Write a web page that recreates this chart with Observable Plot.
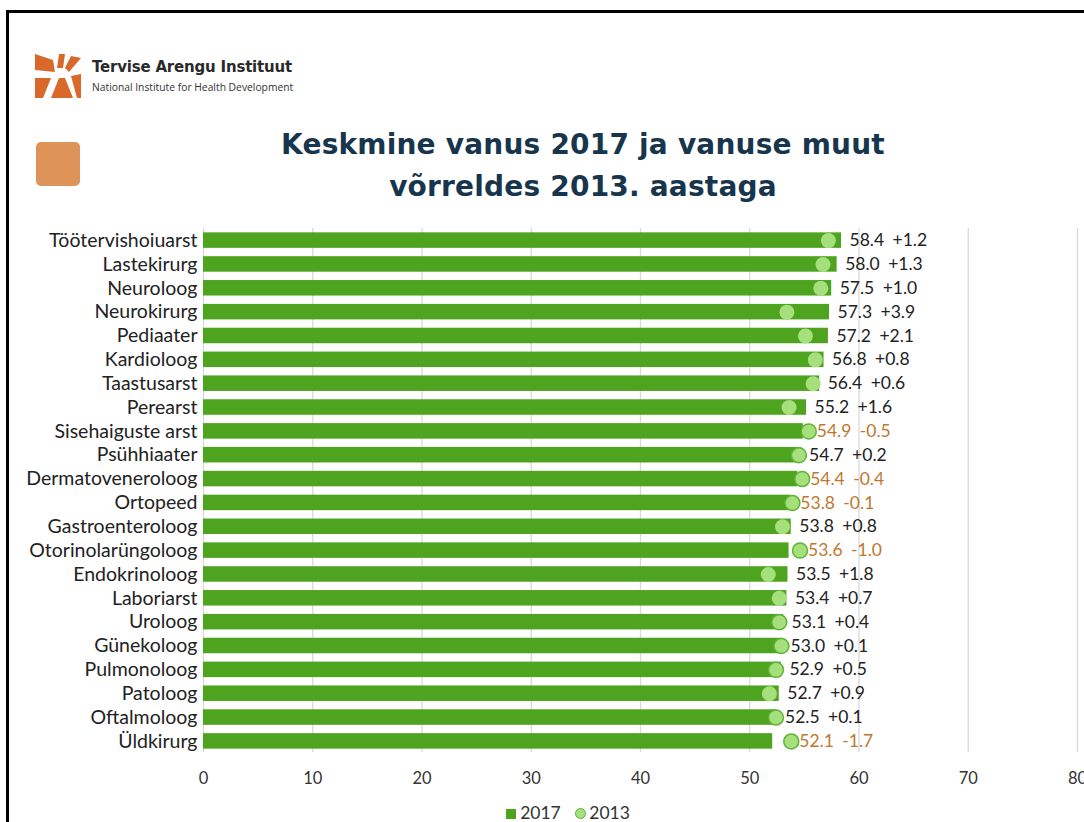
<!DOCTYPE html>
<html>
<head>
<meta charset="utf-8">
<script src="https://cdn.jsdelivr.net/npm/d3@7"></script>
<script src="https://cdn.jsdelivr.net/npm/@observablehq/plot@0.6"></script>
<style>
  html, body { margin: 0; padding: 0; background: #fff; }
  #page { position: relative; width: 1084px; height: 822px; overflow: hidden; background: #fff; }
  #frame { position: absolute; left: 6px; top: 10px; width: 1100px; height: 900px; border-left: 3px solid #000; border-top: 3px solid #000; box-sizing: border-box; }
  #logo { position: absolute; left: 35px; top: 54px; }
  #logoText1 { position: absolute; left: 92px; top: 58px; font-family: "DejaVu Sans", sans-serif; font-weight: bold; font-size: 15px; color: #2a2a2a; letter-spacing: -0.2px; }
  #logoText2 { position: absolute; left: 92px; top: 80px; font-family: "Open Sans", sans-serif; font-size: 10.3px; color: #333; }
  #square { position: absolute; left: 36px; top: 142px; width: 44px; height: 44px; background: #de9458; border-radius: 5px; }
  #title { position: absolute; left: 183px; width: 800px; top: 124px; text-align: center; font-family: "DejaVu Sans", sans-serif; font-weight: bold; font-size: 28px; line-height: 42px; color: #17364d; letter-spacing: 0.2px; }
  #chart { position: absolute; left: 0; top: 200px; }
  #chart svg { display: block; }
  #legend { position: absolute; left: 0; width: 1084px; top: 802px; text-align: center; font-family: Lato, sans-serif; font-size: 17.5px; color: #333; padding-left: 52px; box-sizing: border-box; }
  #legend span.sw { display: inline-block; width: 10px; height: 10px; background: #4ea31f; margin-right: 4px; vertical-align: 0px; }
  #legend span.ci { display: inline-block; width: 11px; height: 11px; border-radius: 50%; background: #a6e07c; border: 1.5px solid #5fb437; margin-left: 10px; margin-right: 3px; vertical-align: 0px; box-sizing: border-box; }
</style>
</head>
<body>
<div id="page">
  <div id="frame"></div>
  <svg id="logo" width="48" height="46" viewBox="0 0 48 46">
    <polygon points="0,0 18,6 20,18 0,16" fill="#d8692a"/>
    <polygon points="24,0 30,0 28,14 22,14" fill="#d8692a"/>
    <polygon points="36,2 46,4 34,18 30,14" fill="#d8692a"/>
    <polygon points="0,24 16,24 8,44 0,44" fill="#d8692a"/>
    <polygon points="24,24 30,24 38,44 16,44" fill="#d8692a"/>
    <polygon points="36,22 46,20 46,44 42,44" fill="#d8692a"/>
  </svg>
  <div id="logoText1">Tervise Arengu Instituut</div>
  <div id="logoText2">National Institute for Health Development</div>
  <div id="square"></div>
  <div id="title">Keskmine vanus 2017 ja vanuse muut<br>võrreldes 2013. aastaga</div>
  <div id="chart"></div>
  <div id="legend"><span class="sw"></span>2017 <span class="ci"></span>2013</div>
</div>
<script>
const categories = ["Töötervishoiuarst","Lastekirurg","Neuroloog","Neurokirurg","Pediaater","Kardioloog","Taastusarst","Perearst","Sisehaiguste arst","Psühhiaater","Dermatoveneroloog","Ortopeed","Gastroenteroloog","Otorinolarüngoloog","Endokrinoloog","Laboriarst","Uroloog","Günekoloog","Pulmonoloog","Patoloog","Oftalmoloog","Üldkirurg"];
const age2017 = [58.4,58.0,57.5,57.3,57.2,56.8,56.4,55.2,54.9,54.7,54.4,53.8,53.8,53.6,53.5,53.4,53.1,53.0,52.9,52.7,52.5,52.1];
const change = [1.2,1.3,1.0,3.9,2.1,0.8,0.6,1.6,-0.5,0.2,-0.4,-0.1,0.8,-1.0,1.8,0.7,0.4,0.1,0.5,0.9,0.1,-1.7];
const xTicks = [0,10,20,30,40,50,60,70,80];

const rows = categories.map((c, i) => {
  const v17 = age2017[i], ch = change[i];
  const v13 = Math.round((v17 - ch) * 10) / 10;
  return {cat: c, v17, v13, ch, neg: ch < 0, lx: Math.max(v17, v13)};
});
const fmtCh = d => (d.ch >= 0 ? "+" : "-") + Math.abs(d.ch).toFixed(1);

const chart = Plot.plot({
  width: 1084,
  height: 617,
  marginLeft: 203,
  marginRight: 7,
  marginTop: 24,
  marginBottom: 60,
  style: {fontFamily: "Lato, sans-serif", fontSize: "16px", color: "#222", overflow: "visible"},
  x: {domain: [0, 80], ticks: xTicks, label: null},
  y: {domain: categories, padding: 0.35, round: false, label: null},
  marks: [
    Plot.gridX(xTicks, {stroke: "#d9d9d9", strokeOpacity: 1, strokeWidth: 1.3, insetTop: 4, insetBottom: 5}),
    Plot.axisX({ticks: xTicks, tickSize: 0, tickPadding: 15, fontSize: 16.5, label: null, fill: "#333"}),
    Plot.axisY({tickSize: 0, tickPadding: 6, fontSize: 19.5, fill: "#222", label: null}),
    Plot.barX(rows, {x: "v17", y: "cat", fill: "#4ea31f"}),
    Plot.dot(rows, {x: "v13", y: "cat", r: 7.5, fill: "#a6e07c", stroke: d => d.neg || d.v13 + 0.55 > d.v17 ? "#5fb437" : "none", strokeWidth: 1.5}),
    Plot.text(rows, {x: "lx", y: "cat", text: d => d.v17.toFixed(1), dx: 8, textAnchor: "start", fill: d => d.neg ? "#c0782e" : "#222", fontSize: 17.5}),
    Plot.text(rows, {x: "lx", y: "cat", text: fmtCh, dx: 51, textAnchor: "start", fill: d => d.neg ? "#c0782e" : "#222", fontSize: 17.5})
  ]
});
document.getElementById("chart").appendChild(chart);
</script>
</body>
</html>
